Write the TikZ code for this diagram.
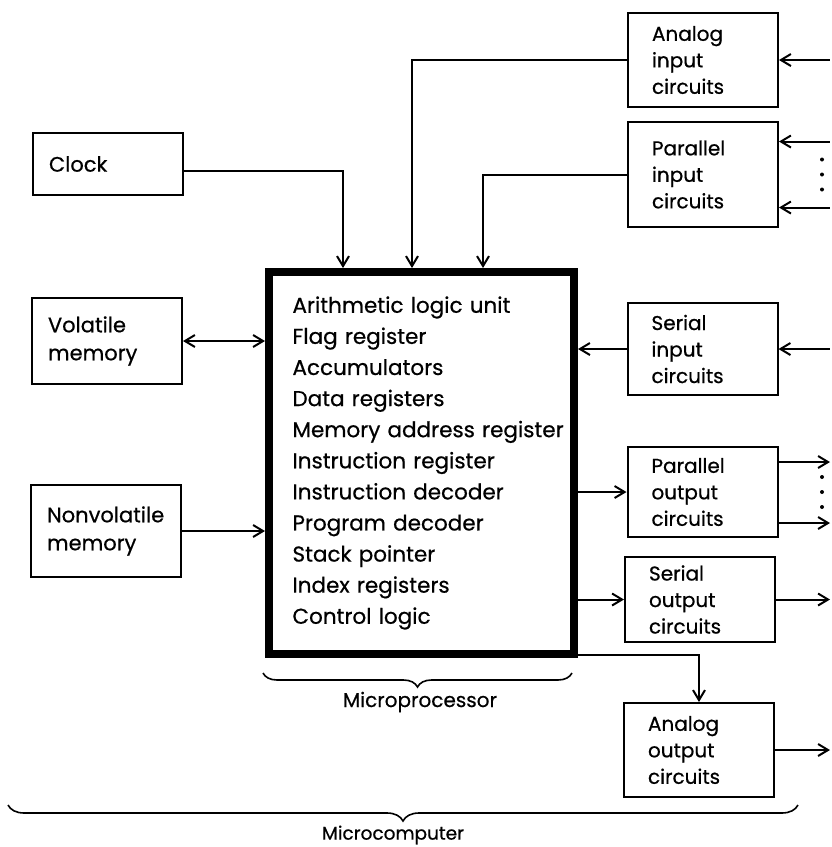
\documentclass[tikz,border=0pt]{standalone}
\usepackage{fontspec}
\setmainfont{Poppins}[FakeBold=0.6]
\usetikzlibrary{positioning,arrows.meta,calc,decorations.pathreplacing}

\begin{document}
\begin{tikzpicture}[x=1pt, y=-1pt, line width=2pt,
  >={Straight Barb[length=10pt, width=12pt]},
  box/.style={draw, line width=2pt, inner xsep=0pt, inner ysep=0pt},
  lbox/.style={box, minimum width=150pt, text width=118pt, align=left, font=\fontsize{21}{28}\selectfont},
  rbox/.style={box, minimum width=150pt, text width=102pt, align=left, font=\fontsize{20}{26.5}\selectfont},
  cpubox/.style={draw, line width=8pt, minimum width=305pt, minimum height=382pt, text width=258pt, align=left, font=\fontsize{21.5}{31.1}\selectfont},
  brc/.style={decorate, decoration={brace, mirror, amplitude=#1}, line width=1.6pt},
  lab/.style={inner sep=0pt, font=\fontsize{20}{22}\selectfont},
]
\useasboundingbox (0,0) rectangle (831,847);

% ---------------- memories and clock ----------------
\node[lbox, minimum height=62pt] (clock)  at (108,164) {Clock};
\node[lbox, minimum height=86pt] (volmem) at (107,341) {Volatile\\memory};
\node[lbox, minimum height=92pt] (nvmem)  at (106,531) {Nonvolatile\\memory};

% ---------------- microprocessor ----------------
\node[cpubox] (cpu) at (421.5,463) {Arithmetic logic unit\\Flag register\\Accumulators\\Data registers\\\mbox{Memory address register}\\Instruction register\\Instruction decoder\\Program decoder\\Stack pointer\\Index registers\\Control logic};

% ---------------- input / output circuits ----------------
\node[rbox, minimum height=94pt]  (ain)  at (703,60)    {Analog\\input\\circuits};
\node[rbox, minimum height=105pt] (pin)  at (703,174.5) {Parallel\\input\\circuits};
\node[rbox, minimum height=92pt]  (sin)  at (702.5,349) {Serial\\input\\circuits};
\node[rbox, minimum height=90pt]  (pout) at (702.5,492) {Parallel\\output\\circuits};
\node[rbox, minimum height=85pt]  (sout) at (700,599.5) {Serial\\output\\circuits};
\node[rbox, minimum height=94pt]  (aout) at (699,750)   {Analog\\output\\circuits};

% clock and the two inputs enter from the top
\draw[->] ([yshift=-7]clock.east) -| ([xshift=78]cpu.north west);
\draw[->] (ain.west) -| ([xshift=147]cpu.north west);
\draw[->] (pin.west) -| ([xshift=218]cpu.north west);
% memories on the left
\draw[<->] (volmem.east) -- (volmem.east -| cpu.west);
\draw[->]  (nvmem.east)  -- (nvmem.east -| cpu.west);
% serial in, outputs on the right
\draw[->] (sin.west) -- (sin.west -| cpu.east);
\draw[->] (pout.west -| cpu.east) -- (pout.west);
\draw[->] (sout.west -| cpu.east) -- (sout.west);
\draw[->] ([yshift=3]cpu.south east) -| (aout.north);

% outside lines, cut off at the right rim
\coordinate (rim) at (830,0);
\coordinate (pin-hi)  at ([yshift=33]pin.east);
\coordinate (pin-lo)  at ([yshift=-33]pin.east);
\coordinate (pout-hi) at ([yshift=30]pout.east);
\coordinate (pout-lo) at ([yshift=-31]pout.east);
\draw[<-] (ain.east) -- (ain.east -| rim);
\draw[<-] (pin-hi) -- (pin-hi -| rim);
\draw[<-] (pin-lo) -- (pin-lo -| rim);
\draw[<-] (sin.east) -- (sin.east -| rim);
\draw[->] (pout-hi) -- (pout-hi -| rim);
\draw[->] (pout-lo) -- (pout-lo -| rim);
\draw[->] (sout.east) -- (sout.east -| rim);
\draw[->] (aout.east) -- (aout.east -| rim);
\foreach \n in {pin,pout}
  \foreach \d in {-15,0,15}
    \fill ($(\n.east -| rim)+(-8,\d)$) circle (2pt);

% ---------------- braces ----------------
\draw[brc=14pt] (263,673) -- (572,673);
\node[lab] (mpu-lab) at (420,702) {Microprocessor};
\draw[brc=16pt] (8,805) -- (798,805);
\node[lab, font=\fontsize{18.5}{20}\selectfont] (mc-lab) at (393,835) {Microcomputer};
\end{tikzpicture}
\end{document}
